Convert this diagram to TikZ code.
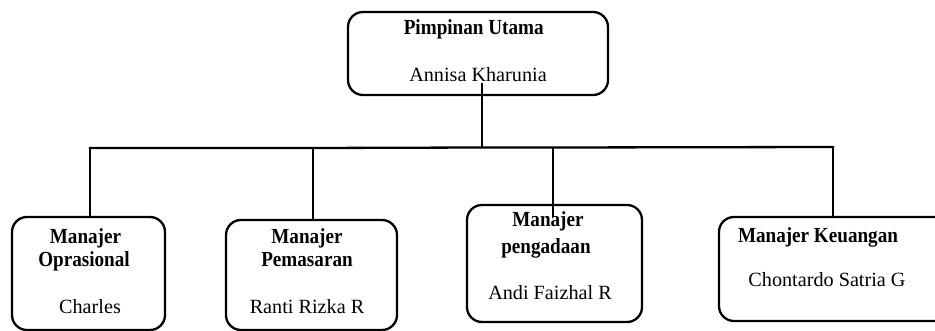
\documentclass[tikz,border=0pt]{standalone}
\usepackage{fontspec}
\setmainfont{Liberation Serif}
\newcommand{\bxt}[1]{\scalebox{0.89}[1]{#1}}
\begin{document}
\begin{tikzpicture}[x=1pt,y=-1pt,
  box/.style={draw,line width=2.3pt,rounded corners=15pt},
  link/.style={line width=2.3pt},
  bt/.style={anchor=base,inner sep=0pt,font=\fontsize{21.5}{22}\selectfont\bfseries},
  rt/.style={anchor=base,inner sep=0pt,font=\fontsize{20.2}{22}\selectfont}]
\useasboundingbox (0,0) rectangle (935,331);
\clip (0,0) rectangle (935,331);
% boxes
\draw[box] (348,12) rectangle (608,95);
\draw[box] (12,217) rectangle (165,330);
\draw[box] (226,220) rectangle (397,330);
\draw[box] (467,205) rectangle (642,322);
\draw[box] (719,217) rectangle (955,321);
% texts
\node[bt] (t0a) at (473.7,35) {\bxt{Pimpinan Utama}};
\node[rt] (t0b) at (478,82) {Annisa Kharunia};
\node[bt] (t1a) at (85.5,244) {\bxt{Manajer}};
\node[bt] (t1b) at (84,267) {\bxt{Oprasional}};
\node[rt] (t1c) at (90,313) {Charles};
\node[bt] (t2a) at (307,244) {\bxt{Manajer}};
\node[bt] (t2b) at (307,267) {\bxt{Pemasaran}};
\node[rt] (t2c) at (307,313) {Ranti Rizka R};
\node[bt] (t3a) at (548,227) {\bxt{Manajer}};
\node[bt] (t3b) at (546,254) {\bxt{pengadaan}};
\node[rt] (t3c) at (550,300) {Andi Faizhal R};
\node[bt] (t4a) at (818,243) {\bxt{Manajer Keuangan}};
\node[rt] (t4c) at (827,287) {Chontardo Satria G};
% connector coordinates
\coordinate (s0) at (482,83);
\coordinate (b0) at (482,147.5);
\coordinate (bL) at (90,148);
\coordinate (b2) at (313,148);
\coordinate (b3) at (553,147.5);
\coordinate (bR) at (833,147);
\coordinate (e1) at (90,217);
\coordinate (e2) at (313,220);
\coordinate (e3) at (553,217);
\coordinate (e4) at (833,217);
\draw[link] (s0) -- (b0);
\draw[link,line cap=rect] (bL) -- (b2) -- (b0) -- (b3) -- (bR);
\draw[link] (bL) -- (e1);
\draw[link] (b2) -- (e2);
\draw[link] (b3) -- (e3);
\draw[link] (bR) -- (e4);
\end{tikzpicture}
\end{document}
